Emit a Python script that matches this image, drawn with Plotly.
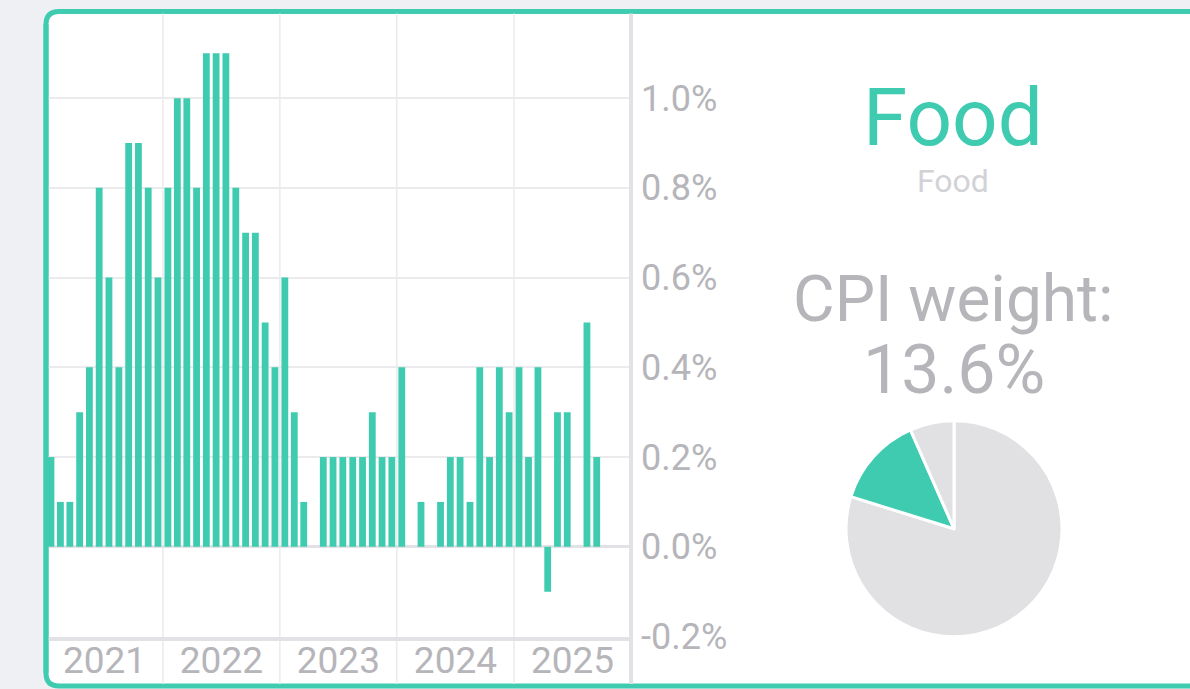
import plotly.graph_objects as go
import pandas as pd

# ---- data ----
months = pd.date_range("2021-01-01", periods=57, freq="MS").strftime("%Y-%m-%d").tolist()
food_mom = [
    0.2, 0.1, 0.1, 0.3, 0.4, 0.8, 0.6, 0.4, 0.9, 0.9, 0.8, 0.6,   # 2021
    0.8, 1.0, 1.0, 0.8, 1.1, 1.1, 1.1, 0.8, 0.7, 0.7, 0.5, 0.4,   # 2022
    0.6, 0.3, 0.1, 0.0, 0.2, 0.2, 0.2, 0.2, 0.2, 0.3, 0.2, 0.2,   # 2023
    0.4, 0.0, 0.1, 0.0, 0.1, 0.2, 0.2, 0.1, 0.4, 0.2, 0.4, 0.3,   # 2024
    0.4, 0.2, 0.4, -0.1, 0.3, 0.3, 0.0, 0.5, 0.2,                 # 2025
]
years = [2021, 2022, 2023, 2024, 2025]
y_ticks = [-0.2, 0.0, 0.2, 0.4, 0.6, 0.8, 1.0]
pie_labels = ["Other", "Food", "Other "]
pie_values = [79.8, 13.6, 6.6]
category = "Food"
subcategory = "Food"
cpi_weight = 13.6

# ---- style ----
W, H = 1190, 712          # page is captured slightly squeezed vertically
REF_H = 689               # layout positions below are given in 1190x689 pixels
TEAL = "#3fcbb0"
GRID = "#ebebee"
AXIS = "#e2e2e6"
TXT = "#b5b5ba"
BG = "#eff0f4"
FONT = "Roboto"

def px(x):
    return x / W

def py(y):
    return 1 - y / REF_H

fig = go.Figure()

fig.add_trace(go.Bar(
    x=months, y=food_mom,
    xperiod="M1", xperiodalignment="middle",
    marker=dict(color=TEAL, line=dict(width=0)),
    hovertemplate="%{x|%b %Y}: %{y:.1f}%<extra></extra>",
    showlegend=False,
))

fig.add_trace(go.Pie(
    labels=pie_labels, values=pie_values,
    marker=dict(colors=["#e1e1e4", TEAL, "#e1e1e4"], line=dict(color="white", width=3)),
    sort=False, direction="clockwise", rotation=0,
    textinfo="none", showlegend=False,
    domain=dict(x=[px(846), px(1062)], y=[py(638), py(418)]),
))

# card with rounded corners (pixel coords converted to paper)
L, T, B, R, r = 46, 11.5, 685, 1210, 13
card_path = (
    f"M {px(L+r)},{py(T)} L {px(R)},{py(T)} L {px(R)},{py(B)} L {px(L+r)},{py(B)} "
    f"Q {px(L)},{py(B)} {px(L)},{py(B-r)} L {px(L)},{py(T+r)} "
    f"Q {px(L)},{py(T)} {px(L+r)},{py(T)} Z"
)
shapes = [dict(type="path", path=card_path, xref="paper", yref="paper",
               fillcolor="white", line=dict(color=TEAL, width=5), layer="below")]

# year boundary lines extending through the label area
for yr in years[1:]:
    shapes.append(dict(type="line", xref="x", yref="paper",
                       x0=f"{yr}-01-01", x1=f"{yr}-01-01",
                       y0=py(B - 2), y1=py(T + 2),
                       line=dict(color=GRID, width=1.5), layer="below"))
# right axis line spanning the card
shapes.append(dict(type="line", xref="paper", yref="paper",
                   x0=px(631), x1=px(631), y0=py(B - 2), y1=py(T + 2),
                   line=dict(color=AXIS, width=4), layer="above"))
# left card border drawn over the plot's grid lines
shapes.append(dict(type="line", xref="paper", yref="paper",
                   x0=px(L), x1=px(L), y0=py(B - r), y1=py(T + r),
                   line=dict(color=TEAL, width=5), layer="above"))

fig.update_layout(shapes=shapes)

annos = [
    dict(text=category, x=px(953), y=py(118), font=dict(size=80, color=TEAL)),
    dict(text=subcategory, x=px(953), y=py(181), font=dict(size=32, color="#d2d2d6")),
    dict(text="CPI weight:", x=px(953), y=py(299), font=dict(size=64, color=TXT)),
    dict(text=f"{cpi_weight}%", x=px(954), y=py(369), font=dict(size=68, color=TXT)),
]
for a in annos:
    a.update(xref="paper", yref="paper", showarrow=False, xanchor="center",
             yanchor="middle", borderpad=0)
fig.update_layout(annotations=annos)

fig.update_layout(
    width=W, height=H, autosize=False,
    margin=dict(l=0, r=0, t=0, b=0),
    paper_bgcolor=BG,
    plot_bgcolor="rgba(0,0,0,0)",
    font=dict(family=FONT, color=TXT),
    bargap=0.28,
    xaxis=dict(
        type="date",
        domain=[px(46), px(631)],
        range=["2021-01-01", "2026-01-01"],
        dtick="M12", tick0="2021-01-01",
        tickformat="%Y", ticklabelmode="period",
        showgrid=False, zeroline=False,
        showline=True, linecolor=AXIS, linewidth=4,
        ticks="", tickfont=dict(size=37, color=TXT),
        ticklabelstandoff=-12,
        fixedrange=True,
    ),
    yaxis=dict(
        side="right",
        domain=[py(635.6), py(8.4)],
        range=[-0.2, 1.2],
        tickvals=y_ticks,
        ticktext=[f"{v:.1f}%" for v in y_ticks],
        showgrid=True, gridcolor=GRID, gridwidth=1.5,
        zeroline=True, zerolinecolor=AXIS, zerolinewidth=3,
        showline=False, ticks="",
        tickfont=dict(size=36, color=TXT),
        ticklabelstandoff=9,
        fixedrange=True,
    ),
    hovermode="closest",
)

fig.write_html(
    "out.html",
    config={"responsive": False, "displayModeBar": False},
    post_script="document.body.style.margin='0';document.body.style.overflow='hidden';"
                "document.body.style.background='#eff0f4';",
)
